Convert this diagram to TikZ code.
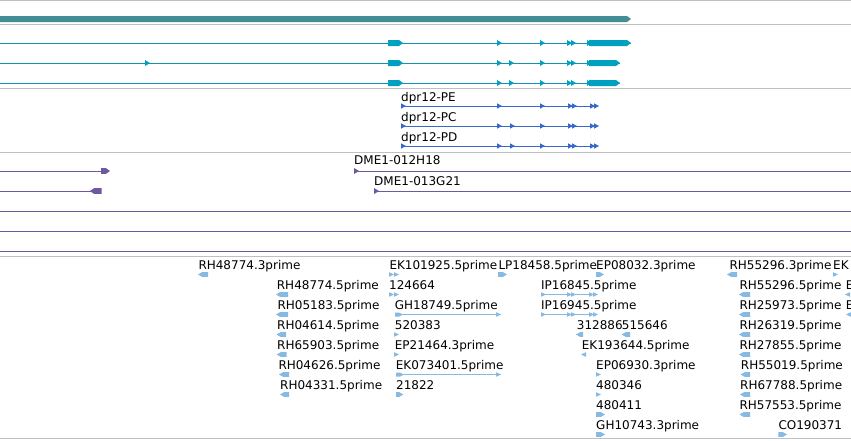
\documentclass[tikz,border=0pt]{standalone}
\usepackage{fontspec}
\setmainfont{DejaVu Sans}
\definecolor{barteal}{RGB}{65,143,148}
\definecolor{tline}{RGB}{20,145,175}
\definecolor{texon}{RGB}{0,160,192}
\definecolor{dblue}{RGB}{55,105,205}
\definecolor{purp}{RGB}{110,88,160}
\definecolor{fblue}{RGB}{135,185,225}
\definecolor{sepgray}{RGB}{192,192,192}
% right-pointing triangle: x, y, half height, colour
\newcommand\rtri[4]{\fill[#4] (#1,{#2-#3}) -- ({#1+5},#2) -- (#1,{#2+#3}) -- cycle;}
% left-pointing triangle
\newcommand\ltri[4]{\fill[#4] ({#1+5},{#2-#3}) -- (#1,#2) -- ({#1+5},{#2+#3}) -- cycle;}
% right-pointing block: x0, x1, y, half height, colour
\newcommand\rpent[5]{\fill[#5] (#1,{#3-#4}) -- ({#2-4},{#3-#4}) -- (#2,#3) -- ({#2-4},{#3+#4}) -- (#1,{#3+#4}) -- cycle;}
% left-pointing block
\newcommand\lpent[5]{\fill[#5] (#1,#3) -- ({#1+4},{#3-#4}) -- (#2,{#3-#4}) -- (#2,{#3+#4}) -- ({#1+4},{#3+#4}) -- cycle;}
\begin{document}
\begin{tikzpicture}[x=1pt,y=-1pt,
  lbl/.style={anchor=base west,inner sep=0pt,font=\fontsize{12}{14}\selectfont},
  sep/.style={draw=sepgray,line width=1pt},
  thin/.style={line width=1pt}]
\useasboundingbox (0,0) rectangle (851,440);
\fill[white] (0,0) rectangle (851,440);
\clip (0,0) rectangle (851,440);

% separators
\foreach \y in {0.6,24,88,152,256,438} {\draw[sep] (0,\y) -- (851,\y);}

% top bar
\rpent{0}{631}{19}{3}{barteal}

% teal transcripts
\foreach \y/\e in {43/631,63/620,83/620}{
  \draw[thin,tline] (0,\y) -- (\e,\y);
  \rpent{388}{403}{\y}{3}{texon}
  \rtri{497}{\y}{3}{texon}
  \rtri{540}{\y}{3}{texon}
  \rtri{567}{\y}{3}{texon}
  \rtri{571}{\y}{3}{texon}
  \rtri{587}{\y}{3}{texon}
  \rpent{589}{\e}{\y}{3}{texon}
}
\foreach \y in {63,83} {\rtri{509}{\y}{3}{texon}}
\rtri{145}{63}{3}{texon}

% dpr12 transcripts
\foreach \y/\t/\n in {106/PE/dpe,126/PC/dpc,146/PD/dpd}{
  \node[lbl] (\n) at (401,{\y-5}) {dpr12-\t};
  \draw[thin,dblue] (401,\y) -- (597,\y);
  \foreach \x in {401,497,540,568,572,590,594} {\rtri{\x}{\y}{2.7}{dblue}}
}
\foreach \y in {126,146} {\rtri{510}{\y}{2.7}{dblue}}

% purple tracks
\draw[thin,purp] (0,171) -- (102,171);
\rpent{101}{110}{171}{2.8}{purp}
\node[lbl] (dmea) at (354,164.5) {DME1-012H18};
\draw[thin,purp] (355,171) -- (851,171);
\rtri{354}{171}{3}{purp}

\draw[thin,purp] (0,191) -- (92,191);
\lpent{90}{101.7}{191}{2.8}{purp}
\node[lbl] (dmeb) at (374,185) {DME1-013G21};
\draw[thin,purp] (375,191) -- (851,191);
\rtri{374}{191}{3}{purp}

\foreach \y in {211,231,251} {\draw[thin,purp] (0,\y) -- (851,\y);}

% bottom labels
\node[lbl] (b01) at (198.3,269) {RH48774.3prime};
\node[lbl] (b02) at (389.3,269) {EK101925.5prime};
\node[lbl] (b03) at (498.3,269) {LP18458.5prime};
\node[lbl] (b04) at (596,269) {EP08032.3prime};
\node[lbl] (b05) at (729.3,269) {RH55296.3prime};
\node[lbl] (b06) at (833,269) {EK};

\node[lbl] (b11) at (276.7,289) {RH48774.5prime};
\node[lbl] (b12) at (389,289) {124664};
\node[lbl] (b13) at (541,289) {IP16845.5prime};
\node[lbl] (b14) at (739.3,289) {RH55296.5prime};
\node[lbl] (b15) at (845.7,289) {E};

\node[lbl] (b21) at (277.3,309) {RH05183.5prime};
\node[lbl] (b22) at (394.7,309) {GH18749.5prime};
\node[lbl] (b23) at (541,309) {IP16945.5prime};
\node[lbl] (b24) at (739.3,309) {RH25973.5prime};
\node[lbl] (b25) at (845.7,309) {E};

\node[lbl] (b31) at (277,329) {RH04614.5prime};
\node[lbl] (b32) at (394.7,329) {520383};
\node[lbl] (b33) at (576.7,329) {312886};
\node[lbl] (b34) at (621.7,329) {515646};
\node[lbl] (b35) at (739.3,329) {RH26319.5prime};

\node[lbl] (b41) at (277,349) {RH65903.5prime};
\node[lbl] (b42) at (394.7,349) {EP21464.3prime};
\node[lbl] (b43) at (581.7,349) {EK193644.5prime};
\node[lbl] (b44) at (739.3,349) {RH27855.5prime};

\node[lbl] (b51) at (278.3,369) {RH04626.5prime};
\node[lbl] (b52) at (395.7,369) {EK073401.5prime};
\node[lbl] (b53) at (596,369) {EP06930.3prime};
\node[lbl] (b54) at (740.7,369) {RH55019.5prime};

\node[lbl] (b61) at (280,389) {RH04331.5prime};
\node[lbl] (b62) at (396,389) {21822};
\node[lbl] (b63) at (596,389) {480346};
\node[lbl] (b64) at (740,389) {RH67788.5prime};

\node[lbl] (b71) at (596,409) {480411};
\node[lbl] (b72) at (739.3,409) {RH57553.5prime};

\node[lbl] (b81) at (596,429) {GH10743.3prime};
\node[lbl] (b82) at (778.3,429) {CO190371};

% bottom features
% row 0
\lpent{198}{208}{274.5}{2.3}{fblue}
\rtri{389}{274.5}{2.3}{fblue}
\rtri{394}{274.5}{2.3}{fblue}
\rpent{498}{507}{274.5}{2.3}{fblue}
\rpent{596}{604}{274.5}{2.3}{fblue}
\lpent{727}{737}{274.5}{2.3}{fblue}
\rtri{833}{274.5}{2.3}{fblue}
% row 1
\lpent{276}{288}{294.5}{2.3}{fblue}
\rtri{389}{294.5}{2.3}{fblue}
\rtri{394}{294.5}{2.3}{fblue}
\draw[thin,fblue] (541,294.5) -- (597,294.5);
\foreach \x in {541,567,571,589,593} {\rtri{\x}{294.5}{2.3}{fblue}}
\lpent{739}{750}{294.5}{2.3}{fblue}
\ltri{845}{294.5}{2.3}{fblue}
% row 2
\lpent{276}{288}{314.5}{2.3}{fblue}
\draw[thin,fblue] (395,314.5) -- (501,314.5);
\rpent{395}{403}{314.5}{2}{fblue}
\rtri{496}{314.5}{2.3}{fblue}
\draw[thin,fblue] (541,314.5) -- (597,314.5);
\foreach \x in {541,567,571,589,593} {\rtri{\x}{314.5}{2.3}{fblue}}
\lpent{739}{750}{314.5}{2.3}{fblue}
\ltri{846}{314.5}{2.3}{fblue}
% row 3
\lpent{276.5}{286}{334.5}{2.3}{fblue}
\rtri{394}{334.5}{2.3}{fblue}
\lpent{576}{583}{334.5}{2.3}{fblue}
\lpent{621.7}{630}{334.5}{2.3}{fblue}
\lpent{739}{750}{334.5}{2.3}{fblue}
% row 4
\lpent{276.7}{286.7}{354.5}{2.3}{fblue}
\rtri{394}{354.5}{2.3}{fblue}
\ltri{581}{354.5}{2.3}{fblue}
\lpent{739}{750}{354.5}{2.3}{fblue}
% row 5
\lpent{279}{289}{374.5}{2.3}{fblue}
\draw[thin,fblue] (396,374.5) -- (501,374.5);
\rpent{396}{404}{374.5}{2}{fblue}
\rtri{496}{374.5}{2.3}{fblue}
\rtri{596}{374.5}{2.3}{fblue}
\lpent{740.7}{750}{374.5}{2.3}{fblue}
% row 6
\lpent{280}{289}{394.5}{2.3}{fblue}
\rpent{396}{403.3}{394.5}{2.3}{fblue}
\rtri{596}{394.5}{2.3}{fblue}
\lpent{740}{750}{394.5}{2.3}{fblue}
% row 7
\rpent{596}{605}{414.5}{2.3}{fblue}
\lpent{739.5}{750}{414.5}{2.3}{fblue}
% row 8
\rpent{596}{605}{434.5}{2.3}{fblue}
\rpent{778.3}{787}{434.5}{2.3}{fblue}
\end{tikzpicture}
\end{document}
